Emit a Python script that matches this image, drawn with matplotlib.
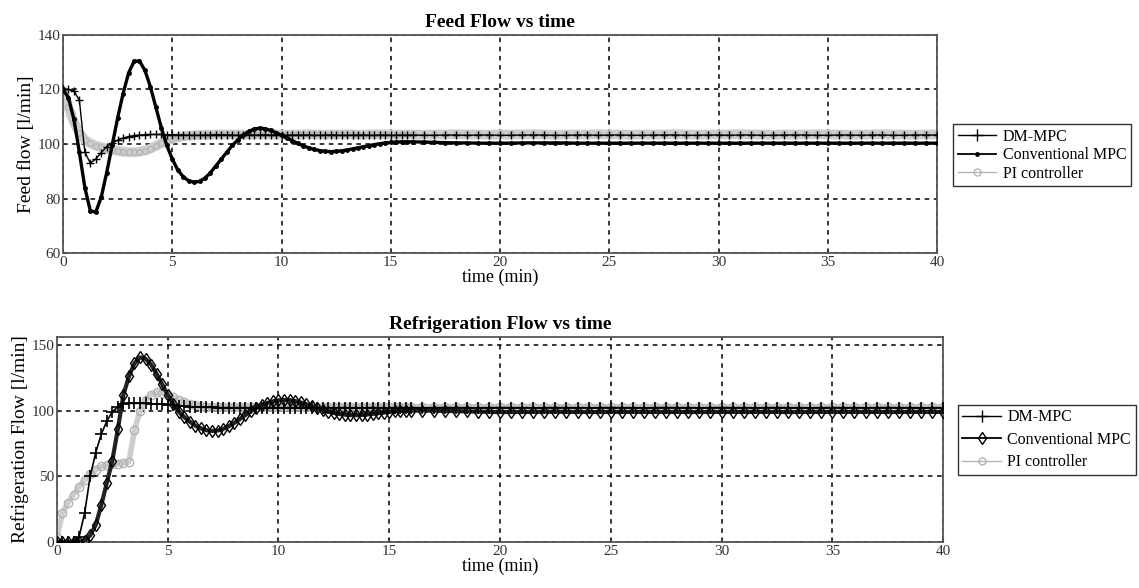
import numpy as np
import matplotlib
matplotlib.use('Agg')
import matplotlib.pyplot as plt
from matplotlib.lines import Line2D

plt.rcParams['font.family'] = ['Liberation Serif', 'DejaVu Serif']

# Sample times: 0.25 min steps through the transient, 0.5 min steps afterwards.
t_fast = np.arange(0, 16, 0.25)
t_slow = np.arange(16, 40.5, 0.5)
time = np.concatenate([t_fast, t_slow])

labels = ['DM-MPC', 'Conventional MPC', 'PI controller']

# Feed flow [l/min]
feed_dm = [
    120.0, 120.0, 119.5, 116.0, 97.0, 93.0, 94.5, 96.8,
    99.0, 100.4, 101.4, 102.2, 102.7, 103.1, 103.3, 103.4,
    103.5, 103.5, 103.5, 103.4, 103.4, 103.3, 103.3, 103.2,
    103.2, 103.2, 103.3, 103.3, 103.4, 103.4, 103.3, 103.3,
    103.2, 103.2, 103.3, 103.3, 103.3, 103.4, 103.3, 103.3,
    103.2, 103.2, 103.3, 103.3, 103.3, 103.3, 103.2, 103.2,
    103.3, 103.3, 103.3, 103.2, 103.2, 103.3, 103.3, 103.3,
    103.2, 103.2, 103.3, 103.3, 103.2, 103.2, 103.3, 103.3,
    103.3, 103.2, 103.2, 103.3, 103.3, 103.2, 103.3, 103.3,
    103.2, 103.2, 103.3, 103.3, 103.3, 103.2, 103.2, 103.3,
    103.3, 103.2, 103.3, 103.3, 103.2, 103.2, 103.3, 103.3,
    103.3, 103.2, 103.2, 103.3, 103.3, 103.2, 103.3, 103.3,
    103.2, 103.2, 103.3, 103.3, 103.3, 103.2, 103.2, 103.3,
    103.3, 103.2, 103.3, 103.3, 103.2, 103.2, 103.3, 103.3,
    103.3,
]
feed_conv = [
    120.0, 117.0, 109.0, 97.0, 84.0, 75.5, 75.0, 80.5,
    89.5, 99.5, 109.5, 118.5, 126.0, 130.3, 130.5, 127.0,
    121.0, 113.5, 106.0, 99.5, 94.5, 90.5, 88.0, 86.5,
    86.0, 86.3, 87.5, 89.5, 92.0, 94.5, 97.0, 99.5,
    101.5, 103.3, 104.6, 105.5, 105.8, 105.6, 105.0, 104.2,
    103.2, 102.2, 101.2, 100.2, 99.3, 98.6, 98.0, 97.6,
    97.3, 97.2, 97.3, 97.5, 97.8, 98.2, 98.6, 99.0,
    99.4, 99.8, 100.1, 100.4, 100.6, 100.7, 100.8, 100.8,
    100.8, 100.7, 100.6, 100.5, 100.4, 100.4, 100.3, 100.3,
    100.3, 100.3, 100.4, 100.4, 100.4, 100.4, 100.4, 100.3,
    100.3, 100.3, 100.3, 100.3, 100.3, 100.3, 100.3, 100.3,
    100.3, 100.3, 100.3, 100.3, 100.3, 100.3, 100.3, 100.3,
    100.3, 100.3, 100.3, 100.3, 100.3, 100.3, 100.3, 100.3,
    100.3, 100.3, 100.3, 100.3, 100.3, 100.3, 100.3, 100.3,
    100.3,
]
feed_pi = [
    120.0, 113.5, 108.0, 104.0, 101.5, 100.2, 99.4, 98.8,
    98.2, 97.8, 97.5, 97.2, 97.0, 97.0, 97.2, 97.6,
    98.3, 99.3, 100.3, 101.2, 101.9, 102.4, 102.8, 103.0,
    103.2, 103.3, 103.4, 103.4, 103.5, 103.5, 103.5, 103.5,
    103.5, 103.4, 103.4, 103.5, 103.5, 103.6, 103.5, 103.5,
    103.4, 103.4, 103.5, 103.5, 103.5, 103.6, 103.5, 103.5,
    103.4, 103.5, 103.5, 103.5, 103.6, 103.5, 103.4, 103.4,
    103.5, 103.5, 103.6, 103.5, 103.5, 103.4, 103.5, 103.5,
    103.5, 103.4, 103.5, 103.5, 103.6, 103.5, 103.5, 103.4,
    103.5, 103.5, 103.5, 103.6, 103.5, 103.4, 103.5, 103.5,
    103.5, 103.6, 103.5, 103.5, 103.4, 103.5, 103.5, 103.5,
    103.6, 103.5, 103.4, 103.5, 103.5, 103.5, 103.6, 103.5,
    103.5, 103.4, 103.5, 103.5, 103.5, 103.6, 103.5, 103.5,
    103.4, 103.5, 103.5, 103.6, 103.5, 103.5, 103.4, 103.5,
    103.5,
]

# Refrigeration flow [l/min]
refr_dm = [
    0.0, 0.0, 0.0, 0.0, 4.0, 22.0, 50.0, 68.0,
    82.0, 92.0, 99.0, 103.0, 105.0, 105.5, 105.5, 105.5,
    105.5, 105.3, 105.0, 104.8, 104.5, 104.0, 103.6, 103.2,
    103.0, 102.8, 102.6, 102.5, 102.4, 102.3, 102.3, 102.2,
    102.2, 102.3, 102.2, 102.1, 102.2, 102.3, 102.2, 102.2,
    102.1, 102.2, 102.3, 102.2, 102.2, 102.1, 102.2, 102.3,
    102.2, 102.2, 102.1, 102.2, 102.3, 102.2, 102.2, 102.1,
    102.2, 102.3, 102.2, 102.2, 102.1, 102.2, 102.3, 102.2,
    102.2, 102.1, 102.2, 102.3, 102.2, 102.2, 102.1, 102.2,
    102.3, 102.2, 102.2, 102.1, 102.2, 102.3, 102.2, 102.2,
    102.1, 102.2, 102.3, 102.2, 102.2, 102.1, 102.2, 102.3,
    102.2, 102.2, 102.1, 102.2, 102.3, 102.2, 102.2, 102.1,
    102.2, 102.3, 102.2, 102.2, 102.1, 102.2, 102.3, 102.2,
    102.2, 102.1, 102.2, 102.3, 102.2, 102.2, 102.1, 102.2,
    102.2,
]
refr_conv = [
    0.0, 0.0, 0.0, 0.0, 0.0, 1.0, 5.0, 13.0,
    28.0, 45.0, 62.0, 86.0, 112.0, 126.0, 136.0, 140.5,
    139.5, 135.0, 128.0, 120.0, 112.0, 105.0, 99.0, 95.0,
    91.5, 88.5, 86.5, 85.0, 84.5, 84.8, 86.0, 88.0,
    90.5, 93.5, 96.5, 99.5, 102.0, 104.0, 105.8, 107.0,
    107.8, 108.1, 108.0, 107.3, 106.2, 104.8, 103.3, 101.8,
    100.4, 99.2, 98.2, 97.4, 96.9, 96.6, 96.5, 96.7,
    97.0, 97.5, 98.0, 98.5, 99.0, 99.4, 99.7, 99.9,
    100.0, 100.0, 99.9, 99.8, 99.6, 99.4, 99.2, 99.0,
    98.9, 98.9, 99.0, 99.0, 99.1, 99.1, 99.0, 99.0,
    98.9, 98.9, 99.0, 99.0, 99.0, 99.0, 99.0, 99.0,
    99.0, 98.9, 98.9, 99.0, 99.0, 99.0, 99.0, 99.0,
    99.0, 99.0, 98.9, 98.9, 99.0, 99.0, 99.0, 99.0,
    99.0, 99.0, 99.0, 98.9, 98.9, 99.0, 99.0, 99.0,
    99.0,
]
refr_pi = [
    4.0, 22.0, 30.0, 36.0, 42.0, 47.0, 52.0, 55.0,
    57.5, 58.5, 59.0, 59.5, 60.0, 61.0, 85.0, 100.0,
    108.0, 112.0, 114.0, 113.5, 112.0, 110.0, 108.0, 106.5,
    105.0, 104.0, 103.5, 103.0, 102.8, 102.6, 102.5, 102.5,
    102.6, 102.7, 102.6, 102.5, 102.6, 102.7, 102.8, 102.7,
    102.6, 102.7, 102.8, 102.8, 102.7, 102.8, 102.9, 102.8,
    102.8, 102.9, 103.0, 102.9, 102.8, 102.9, 103.0, 103.0,
    102.9, 103.0, 103.1, 103.0, 103.0, 102.9, 103.0, 103.1,
    103.0, 103.1, 103.0, 103.0, 103.1, 103.0, 102.9, 103.0,
    103.1, 103.0, 103.0, 103.1, 103.0, 103.0, 102.9, 103.0,
    103.1, 103.0, 103.0, 103.1, 103.0, 102.9, 103.0, 103.1,
    103.0, 103.0, 103.1, 103.0, 103.0, 102.9, 103.0, 103.1,
    103.0, 103.0, 103.1, 103.0, 103.0, 102.9, 103.0, 103.1,
    103.0, 103.0, 103.1, 103.0, 103.0, 102.9, 103.0, 103.1,
    103.0,
]

PI_GREY = '#b4b4b4'
PI_BAND = '#cdcdcd'


def style_axes(ax, title, ylabel, ylim, yticks):
    ax.set_xlim(0, 40)
    ax.set_ylim(*ylim)
    ax.set_xticks(range(0, 45, 5))
    ax.set_yticks(yticks)
    ax.grid(True, color='black', linestyle=(0, (3, 3)), linewidth=1.1)
    ax.set_axisbelow(True)
    for s in ax.spines.values():
        s.set_color('#555555')
        s.set_linewidth(1.3)
    ax.tick_params(direction='in', length=3, labelsize=11, colors='#333333', pad=2)
    ax.set_title(title, fontsize=14, fontweight='bold', pad=6)
    ax.set_xlabel('time (min)', fontsize=13, labelpad=0)
    ax.set_ylabel(ylabel, fontsize=14, labelpad=2)


def add_legend(x, y, conv_marker, conv_ms, spacing):
    handles = [
        Line2D([], [], color='black', lw=1, marker='+', ms=8, mew=1),
        Line2D([], [], color='black', lw=1.3, marker=conv_marker, ms=conv_ms,
               mfc='none' if conv_marker == 'd' else 'black', mew=1),
        Line2D([], [], color=PI_GREY, lw=1, marker='o', ms=5, mfc='none', mew=1),
    ]
    leg = fig.legend(handles, labels, loc='center left',
                     bbox_to_anchor=(x, y), fontsize=11.5, frameon=True,
                     fancybox=False, edgecolor='black', handlelength=2.4,
                     labelspacing=spacing, borderpad=0.3, handletextpad=0.4,
                     borderaxespad=0.2)
    leg.get_frame().set_linewidth(1.0)


fig = plt.figure(figsize=(11.39, 5.88), dpi=100)

# Feed flow subplot
ax1 = fig.add_axes([0.0553, 0.5697, 0.7674, 0.3708])
ax1.plot(time, feed_pi, color=PI_BAND, lw=7, solid_capstyle='butt', zorder=2)
ax1.plot(time, feed_pi, color=PI_GREY, lw=0, marker='o', ms=4, mfc='none',
         mew=0.8, zorder=2)
ax1.plot(time, feed_conv, color='black', lw=2.4, marker='.', ms=5, zorder=3)
ax1.plot(time, feed_dm, color='black', lw=1, marker='+', ms=6, mew=1, zorder=4)
style_axes(ax1, 'Feed Flow vs time', 'Feed flow [l/min]', (60, 140),
           range(60, 150, 20))
add_legend(0.834, 0.736, '.', 5, 0.15)

# Refrigeration flow subplot
ax2 = fig.add_axes([0.05, 0.0782, 0.778, 0.3487])
ax2.plot(time, refr_pi, color=PI_BAND, lw=4, solid_capstyle='butt', zorder=2)
ax2.plot(time, refr_pi, color=PI_GREY, lw=0, marker='o', ms=6, mfc='none',
         mew=1, zorder=2)
ax2.plot(time, refr_conv, color='#222222', lw=3, zorder=3)
ax2.plot(time, refr_conv, color='black', lw=0, marker='d', ms=6, mfc='none',
         mew=1, zorder=3)
ax2.plot(time, refr_dm, color='black', lw=1.2, marker='+', ms=8, mew=1.2,
         zorder=4)
style_axes(ax2, 'Refrigeration Flow vs time', 'Refrigeration Flow [l/min]',
           (0, 156), [0, 50, 100, 150])
add_legend(0.838, 0.252, 'd', 6, 0.4)

fig.savefig('out.png', dpi=100)
